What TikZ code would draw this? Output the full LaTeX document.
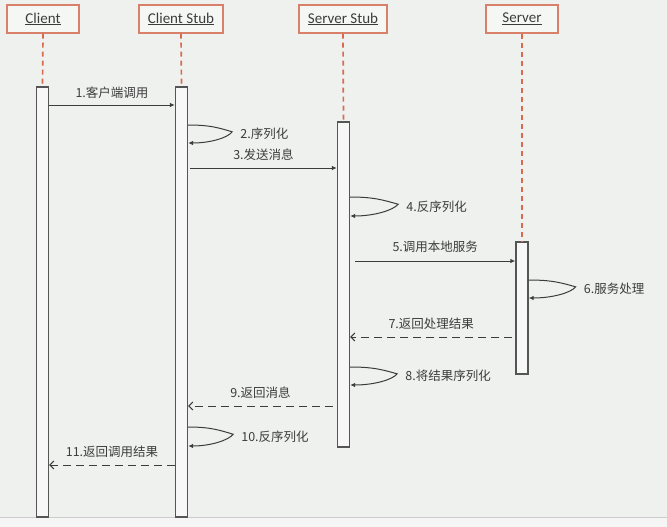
\documentclass[tikz,border=0pt]{standalone}
\usepackage{fontspec}
\setmainfont{Carlito}
\newfontfamily\cjk{Noto Sans CJK SC}
\usetikzlibrary{arrows.meta}
\definecolor{bgc}{HTML}{EFF1EF}
\definecolor{bandc}{HTML}{F4F5F4}
\definecolor{headc}{HTML}{D9806A}
\definecolor{lifec}{HTML}{D96A50}
\definecolor{inkc}{HTML}{3C3C3C}
\definecolor{barc}{HTML}{555555}
\definecolor{barfill}{HTML}{F7F7F7}
\tikzset{
  head/.style={draw=headc, line width=1.4pt, fill=bgc!60!white, minimum height=28pt, inner sep=0pt,
    font=\fontsize{15}{17}\selectfont, text=inkc},
  lifeline/.style={draw=lifec, line width=1.7pt, dash pattern=on 5pt off 4pt},
  actbar/.style={draw=barc, line width=1.3pt, fill=barfill, minimum width=12pt, inner sep=0pt},
  msg/.style={draw=inkc, line width=1pt, -{Latex[length=5pt,width=4.5pt]}},
  ret/.style={draw=inkc, line width=1pt, dash pattern=on 8pt off 5pt, -{Straight Barb[length=4pt,width=8pt]}},
  lbl/.style={font=\cjk\fontsize{12.5}{14}\selectfont, text=inkc, inner sep=0pt},
}
\newcommand\sloop[5]{%
  \draw[msg] (#1.east |- 0,#2) .. controls +(0.5*#4,0) and +(-0.3*#4,-4) .. ++(#4,0.38*#3-0.38*#2)
    .. controls +(-0.1*#4,6) and +(0.5*#4,0) .. (#1.east |- 0,#3);
  \node[lbl, anchor=west] at ([xshift=#4 pt+8pt]#1.east |- 0,{0.5*#2+0.5*#3}) {#5};
}
\begin{document}
\begin{tikzpicture}[x=1pt,y=-1pt]
\fill[bgc] (0,0) rectangle (667,527);
\useasboundingbox (0,0) rectangle (667,527);
\fill[bandc] (0,517) rectangle (667,527);
\draw[color=black!20, line width=0.8pt] (0,517) -- (667,517);

% headers
\node[head, minimum width=72pt] (h1) at (43,19) {\underline{Client}};
\node[head, minimum width=84pt] (h2) at (181,19) {\underline{Client Stub}};
\node[head, minimum width=88pt] (h3) at (343,19) {\underline{Server Stub}};
\node[head, minimum width=72pt] (h4) at (522,19) {\underline{Server}};

% activation bars
\node[actbar, minimum height=430pt] (b1) at (42.5,302) {};
\node[actbar, minimum height=430pt] (b2) at (181.5,302) {};
\node[actbar, minimum height=325pt] (b3) at (343.5,284.5) {};
\node[actbar, minimum height=132pt] (b4) at (522,308) {};

% lifelines
\draw[lifeline] (h1.south) -- (b1.north);
\draw[lifeline] (h2.south) -- (b2.north);
\draw[lifeline] (h3.south) -- (b3.north);
\draw[lifeline] (h4.south) -- (b4.north);

% messages
\draw[msg] (b1.east |- 0,105) -- node[lbl, midway, yshift=12pt] {1.客户端调用} (b2.west |- 0,105);
\sloop{b2}{125}{143}{44}{2.序列化}
\draw[msg] ([xshift=2pt]b2.east |- 0,168) -- node[lbl, midway, yshift=13pt] {3.发送消息} (b3.west |- 0,168);
\sloop{b3}{197}{216}{48}{4.反序列化}
\draw[msg] ([xshift=5pt]b3.east |- 0,261) -- node[lbl, midway, yshift=14pt] {5.调用本地服务} (b4.west |- 0,261);
\sloop{b4}{280}{298}{47}{6.服务处理}
\draw[ret] ([xshift=-3pt]b4.west |- 0,337) -- node[lbl, midway, yshift=13pt] {7.返回处理结果} (b3.east |- 0,337);
\sloop{b3}{367}{385}{47}{8.将结果序列化}
\draw[ret] ([xshift=-4pt]b3.west |- 0,406) -- node[lbl, midway, yshift=13pt] {9.返回消息} (b2.east |- 0,406);
\sloop{b2}{427}{446}{45}{10.反序列化}
\draw[ret] (b2.west |- 0,465) -- node[lbl, midway, yshift=13pt] {11.返回调用结果} (b1.east |- 0,465);
\end{tikzpicture}
\end{document}
